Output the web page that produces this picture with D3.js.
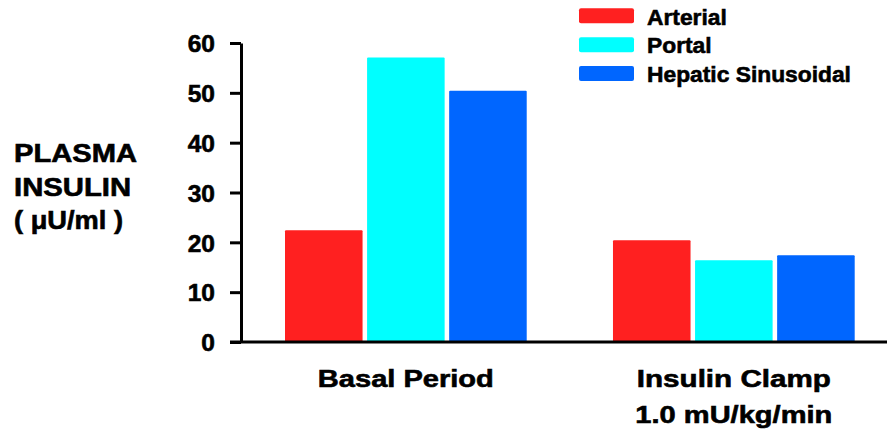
<!DOCTYPE html>
<html>
<head>
<meta charset="utf-8">
<script src="https://cdn.jsdelivr.net/npm/d3@7"></script>
<style>
  html, body { margin: 0; padding: 0; background: #fff; }
  svg { display: block; font-family: "Liberation Sans", Arial, Helvetica, sans-serif; font-weight: bold; }
  svg text { fill: #000; stroke: #000; stroke-width: 0.6px; }
</style>
</head>
<body>
<svg id="chart" width="887" height="435"></svg>
<script>
// ---- data ----
const groups = ["Basal Period", "Insulin Clamp"];
const groupLines = [["Basal Period"], ["Insulin Clamp", "1.0 mU/kg/min"]];
const series = ["Arterial", "Portal", "Hepatic Sinusoidal"];
const arterial = [22.4, 20.4];
const portal = [57.1, 16.4];
const hepatic = [50.4, 17.4];
const yTicks = [0, 10, 20, 30, 40, 50, 60];
const yTitle = ["PLASMA", "INSULIN", "( \u03bcU/ml )"];
const colors = ["#ff2020", "#00ffff", "#0066ff"];

const values = [arterial, portal, hepatic];

const svg = d3.select("#chart");

const y = d3.scaleLinear().domain([0, 60]).range([342, 43]);
const x0 = d3.scaleBand().domain(groups).range([285, 285 + 328 + 241.7]).paddingInner(0.263).paddingOuter(0);
const x1 = d3.scaleBand().domain(series).range([0, x0.bandwidth()]).paddingInner(0.055);
const color = d3.scaleOrdinal().domain(series).range(colors);

// bars
groups.forEach((g, gi) => {
  svg.append("g")
    .attr("transform", `translate(${x0(g)},0)`)
    .selectAll("rect")
    .data(series.map((s, si) => ({ s, v: values[si][gi] })))
    .join("rect")
    .attr("x", d => x1(d.s))
    .attr("y", d => y(d.v))
    .attr("width", x1.bandwidth())
    .attr("height", d => y(0) - y(d.v))
    .attr("rx", 1)
    .attr("fill", d => color(d.s));
});

// y axis
const yAxis = d3.axisLeft(y).tickValues(yTicks).tickSize(11).tickSizeOuter(0).tickPadding(15);
const ya = svg.append("g").attr("transform", "translate(241,0)").call(yAxis);
ya.select(".domain").attr("stroke", "#000").attr("stroke-width", 3);
ya.selectAll(".tick line").attr("stroke", "#000").attr("stroke-width", 3);
ya.selectAll(".tick text")
  .attr("fill", "#000")
  .style("font-size", "24.5px")
  .style("font-weight", "bold")
  .attr("dy", "0.36em")
  .attr("font-family", "Liberation Sans, Arial, sans-serif");

// x axis baseline
svg.append("line")
  .attr("x1", 230).attr("x2", 887)
  .attr("y1", y(0)).attr("y2", y(0))
  .attr("stroke", "#000").attr("stroke-width", 3);

// x category labels
const xLabelLens = [[176], [194, 197]];
groups.forEach((g, gi) => {
  groupLines[gi].forEach((line, li) => {
    svg.append("text")
      .attr("x", x0(g) + x0.bandwidth() / 2)
      .attr("y", 387 + li * 35.5)
      .attr("text-anchor", "middle")
      .attr("textLength", xLabelLens[gi][li])
      .attr("lengthAdjust", "spacingAndGlyphs")
      .style("font-size", "24.5px")
      .text(line);
  });
});

// y title
const yTitleLens = [123, 117, 109];
yTitle.forEach((t, i) => {
  svg.append("text")
    .attr("x", 14)
    .attr("y", 162 + i * 33.5)
    .attr("textLength", yTitleLens[i])
    .attr("lengthAdjust", "spacingAndGlyphs")
    .style("font-size", "25px")
    .text(t);
});

// legend
const legend = svg.append("g");
series.forEach((s, i) => {
  legend.append("rect")
    .attr("x", 579).attr("y", 8.3 + i * 28.9)
    .attr("width", 55).attr("height", 15)
    .attr("rx", 2)
    .attr("fill", color(s));
  legend.append("text")
    .attr("x", 647).attr("y", 25 + i * 28.3)
    .style("font-size", "22.8px")
    .text(s);
});
</script>
</body>
</html>
